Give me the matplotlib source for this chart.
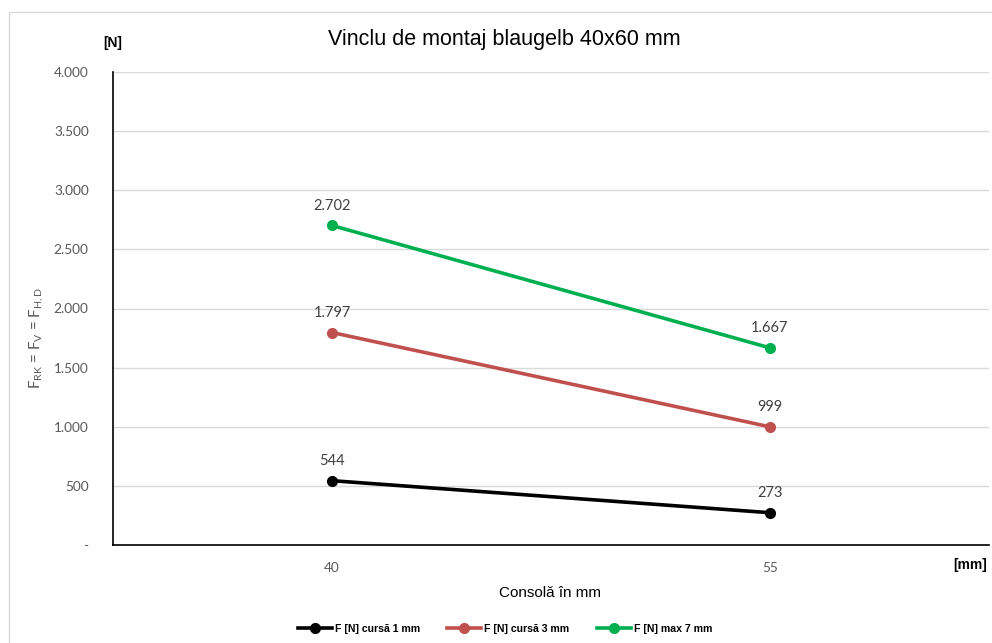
import matplotlib
matplotlib.use('Agg')
import matplotlib.pyplot as plt
from matplotlib.patches import Rectangle

# data
categories = ['40', '55']
series_names = ['F [N] cursă 1 mm', 'F [N] cursă 3 mm', 'F [N] max 7 mm']
values_1mm = [544, 273]
values_3mm = [1797, 999]
values_7mm = [2702, 1667]
colors = ['#000000', '#C0504D', '#00B050']
y_ticks = [0, 500, 1000, 1500, 2000, 2500, 3000, 3500, 4000]


def fmt(v):
    # thousands separator as dot, zero shown as dash
    if v == 0:
        return '-'
    return f'{v:,.0f}'.replace(',', '.')


fig = plt.figure(figsize=(9.92, 6.43), dpi=100)
ax = fig.add_axes([113 / 992, 1 - 545 / 643, (989 - 113) / 992, (545 - 72) / 643])

# outer chart frame
fig.patches.append(Rectangle((9 / 992, -0.01), 1.0, 1 - 12 / 643 + 0.01, transform=fig.transFigure,
                             fill=False, edgecolor='#D9D9D9', linewidth=1.0, zorder=0))

x = list(range(len(categories)))
for vals, name, col in zip([values_1mm, values_3mm, values_7mm], series_names, colors):
    ax.plot(x, vals, color=col, linewidth=2.6, marker='o', markersize=7, label=name, zorder=3)
    for xi, v in zip(x, vals):
        ax.annotate(fmt(v), (xi, v), xytext=(0, 9), textcoords='offset points',
                    ha='center', va='bottom', fontsize=10.5, color='#404040', family='Lato')

ax.set_xlim(-0.5, 1.5)
ax.set_ylim(0, 4000)
ax.set_xticks(x)
ax.set_xticklabels(categories)
ax.set_yticks(y_ticks)
ax.set_yticklabels([fmt(v) for v in y_ticks])
ax.tick_params(length=0, labelsize=9.8, labelcolor='#595959')
for lbl in ax.get_xticklabels() + ax.get_yticklabels():
    lbl.set_family('Lato')
ax.tick_params(axis='y', pad=17.5)
ax.tick_params(axis='x', pad=12)
ax.grid(axis='y', color='#D9D9D9', linewidth=1.0)
ax.set_axisbelow(True)
for s in ['top', 'right']:
    ax.spines[s].set_visible(False)
for s in ['left', 'bottom']:
    ax.spines[s].set_color('#000000')
    ax.spines[s].set_linewidth(1.2)

fig.text(550 / 992, 1 - 593 / 643, 'Consolă în mm', ha='center', va='center', fontsize=11,
         family='Liberation Sans')
fig.text(504 / 992, 1 - 40 / 643, 'Vinclu de montaj blaugelb 40x60 mm', ha='center', va='center',
         fontsize=15.5, family='Liberation Sans')
fig.text(113 / 992, 1 - 43 / 643, '[N]', ha='center', va='center', fontsize=10, fontweight='bold',
         family='Liberation Sans')
fig.text(970 / 992, 1 - 565 / 643, '[mm]', ha='center', va='center', fontsize=10, fontweight='bold',
         family='Liberation Sans')
fig.text(37 / 992, 1 - 338 / 643, r'F$_{\mathregular{RK}}$ = F$_{\mathregular{V}}$ = F$_{\mathregular{H,D}}$',
         ha='center', va='center', rotation=90, fontsize=10.8, color='#595959', family='Lato')

fig.legend(loc='center', bbox_to_anchor=(505 / 992, 1 - 629 / 643), ncol=3, frameon=False,
           prop={'family': 'Liberation Sans', 'weight': 'bold', 'size': 7.6}, handlelength=3.2,
           handletextpad=0.3, columnspacing=2.6)

fig.savefig('out.png', dpi=100)
